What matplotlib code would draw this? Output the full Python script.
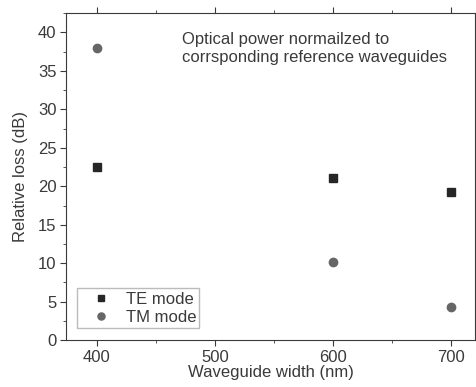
import matplotlib
matplotlib.use("Agg")
import matplotlib.pyplot as plt
from matplotlib.ticker import MultipleLocator

plt.rcParams['font.family'] = ['Liberation Sans', 'DejaVu Sans']

widths = [400, 600, 700]
te_loss = [22.5, 21.1, 19.2]
tm_loss = [38.0, 10.2, 4.3]

ink = '#3a3a3a'
fs = 12

fig = plt.figure(figsize=(4.76, 3.87), dpi=100)
ax = fig.add_axes([0.139, 0.121, 0.859, 0.845])

ax.plot(widths, te_loss, 's', color='#262626', ms=5.5, label='TE mode')
ax.plot(widths, tm_loss, 'o', color='#666666', ms=6, label='TM mode')

ax.set_xlim(374, 720)
ax.set_ylim(0, 42.5)
ax.xaxis.set_major_locator(MultipleLocator(100))
ax.xaxis.set_minor_locator(MultipleLocator(50))
ax.yaxis.set_major_locator(MultipleLocator(5))
ax.yaxis.set_minor_locator(MultipleLocator(2.5))
ax.tick_params(which='both', direction='out', top=True, right=True, colors=ink,
               labelsize=fs, pad=3)
ax.tick_params(which='major', length=4)
ax.tick_params(which='minor', length=2)
for sp in ax.spines.values():
    sp.set_color(ink)

ax.set_xlabel('Waveguide width (nm)', fontsize=fs, color=ink, labelpad=0)
ax.set_ylabel('Relative loss (dB)', fontsize=fs, color=ink, labelpad=7)

ax.text(0.284, 0.942, 'Optical power normailzed to\ncorrsponding reference waveguides',
        transform=ax.transAxes, fontsize=fs, color=ink, va='top', ha='left',
        linespacing=1.2)

leg = ax.legend(loc='lower left', bbox_to_anchor=(0.027, 0.036), fontsize=fs,
                frameon=True, fancybox=False, handletextpad=0.2,
                handlelength=2.5, borderpad=0.2, labelspacing=0.2,
                borderaxespad=0, markerscale=0.85)
leg.get_frame().set_edgecolor('#aaaaaa')
for t in leg.get_texts():
    t.set_color(ink)

fig.savefig('out.png', dpi=100)
